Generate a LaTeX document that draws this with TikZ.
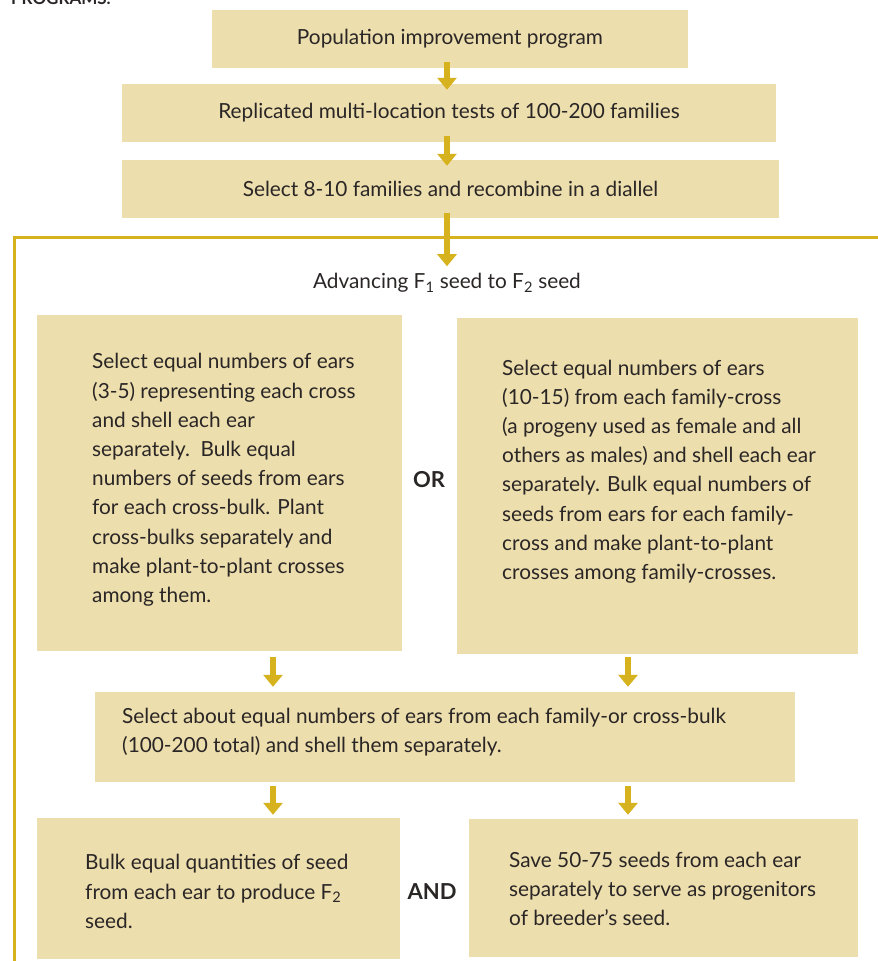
\documentclass[tikz,border=0pt]{standalone}
\usepackage{fontspec}
\setmainfont{Lato}
\usetikzlibrary{arrows.meta}
\definecolor{wheat}{HTML}{EDDEAD}
\definecolor{gold}{HTML}{D6B21E}
\definecolor{ink}{HTML}{2A2626}
\tikzset{
  box/.style={fill=wheat, inner sep=0pt, text=ink, font=\fontsize{20.8}{29.2}\selectfont},
  txt/.style={text=ink, font=\fontsize{20.8}{29.2}\selectfont, inner sep=0pt, align=left, anchor=west},
  word/.style={text=ink, font=\fontsize{22}{26}\selectfont\bfseries, inner sep=0pt},
  flow/.style={draw=gold, line width=6pt, -{Triangle[width=19pt,length=12pt]}}
}
\begin{document}
\begin{tikzpicture}[x=1pt,y=-1pt]
	\useasboundingbox (0,0) rectangle (878,961);
	\node[anchor=base west, text=ink, font=\fontsize{17}{20}\selectfont\bfseries, inner sep=0pt] (heading) at (11,5) {PROGRAMS.};

	% top chain
	\node[box, minimum width=476pt, minimum height=58pt] (popimp) at (450,39) {Population improvement program};
	\node[box, minimum width=654pt, minimum height=58pt] (reptest) at (449,113) {Replicated multi-location tests of 100-200 families};
	\node[box, minimum width=657pt, minimum height=58pt] (recomb) at (450.5,189) {Select 8-10 families and recombine in a diallel};

	\draw[draw=gold, line width=3pt] (890,237.5) -- (14.5,237.5) -- (14.5,975);
	\node[text=ink, font=\fontsize{20.8}{29.2}\selectfont, inner sep=0pt] (advance) at (447,283) {Advancing F\textsubscript{1} seed to F\textsubscript{2} seed};

	% two ways
	\node[box, minimum width=365pt, minimum height=336pt] (methodA) at (219.5,483) {};
	\node[box, minimum width=401pt, minimum height=336pt] (methodB) at (657.5,486) {};
	\node[txt] (methodAtxt) at (92,480) {Select equal numbers of ears\\(3-5) representing each cross\\and shell each ear\\separately.\ \ Bulk equal\\numbers of seeds from ears\\for each cross-bulk. Plant\\cross-bulks separately and\\make plant-to-plant crosses\\among them.};
	\node[txt] (methodBtxt) at (502,471.5) {Select equal numbers of ears\\(10-15) from each family-cross\\(a progeny used as female and all\\others as males) and shell each ear\\separately. Bulk equal numbers of\\seeds from ears for each family-\\cross and make plant-to-plant\\crosses among family-crosses.};
	\node[word] (orword) at (429,480) {OR};

	\node[box, minimum width=700pt, minimum height=90pt] (selears) at (445,737) {};
	\node[txt] (selearstxt) at (122,732.5) {Select about equal numbers of ears from each family-or cross-bulk\\(100-200 total) and shell them separately.};

	% last row
	\node[box, minimum width=363pt, minimum height=141pt] (bulkseed) at (218.5,888.5) {};
	\node[box, minimum width=389pt, minimum height=138pt] (saveseed) at (663.5,888) {};
	\node[txt] (bulkseedtxt) at (85,891.5) {Bulk equal quantities of seed\\from each ear to produce F\textsubscript{2}\\seed.};
	\node[txt] (saveseedtxt) at (509,889) {Save 50-75 seeds from each ear\\separately to serve as progenitors\\of breeder’s seed.};
	\node[word] (andword) at (432,892) {AND};

	% arrows
	\draw[flow, shorten <=-6pt, shorten >=-6pt] (popimp.south -| 447,0) -- (reptest.north -| 447,0);
	\draw[flow, shorten <=-6pt, shorten >=-6pt] (reptest.south -| 447,0) -- (recomb.north -| 447,0);
	\draw[flow, shorten <=-5pt, shorten >=7pt] (recomb.south -| 447,0) -- (advance.north -| 447,0);
	\draw[flow, shorten <=6pt, shorten >=5pt] (methodA.south -| 273,0) -- (selears.north -| 273,0);
	\draw[flow, shorten <=3pt, shorten >=5pt] (methodB.south -| 628,0) -- (selears.north -| 628,0);
	\draw[flow, shorten <=4pt, shorten >=3pt] (selears.south -| 273,0) -- (bulkseed.north -| 273,0);
	\draw[flow, shorten <=4pt, shorten >=4pt] (selears.south -| 628,0) -- (saveseed.north -| 628,0);
\end{tikzpicture}
\end{document}
